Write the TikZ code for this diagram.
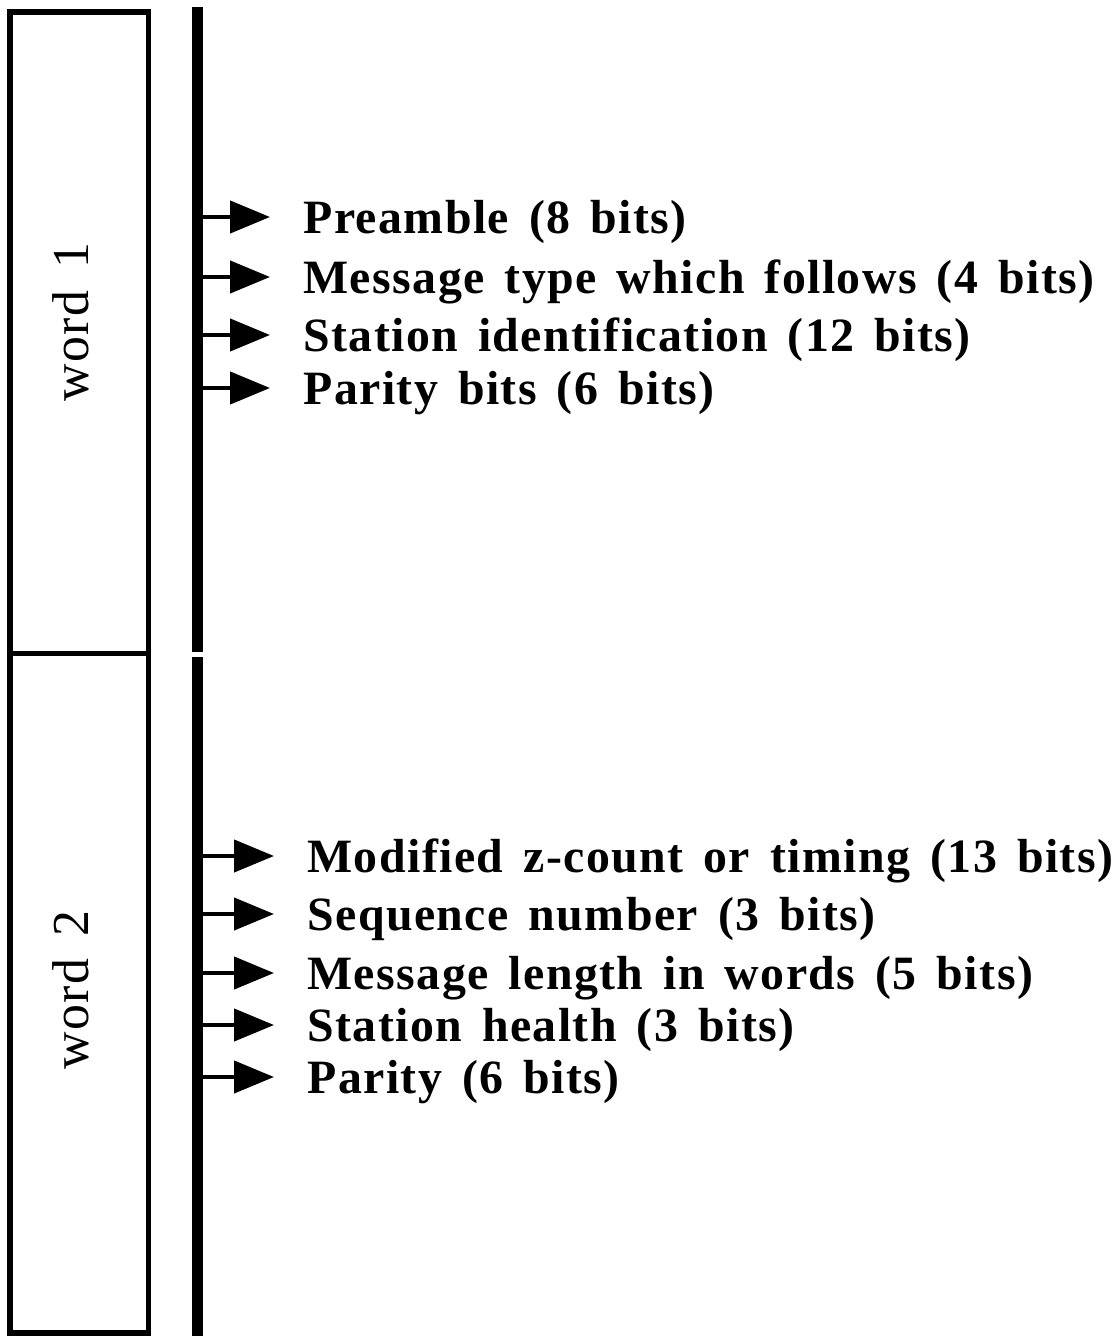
\documentclass[tikz,border=0pt]{standalone}
\usepackage{fontspec}
\setmainfont{Liberation Serif}[WordSpace=1.5,LetterSpace=3]
\usetikzlibrary{arrows.meta}
\tikzset{
  item/.style={anchor=west,inner sep=0pt,text height=18bp,text depth=2bp,font=\fontsize{24}{28}\selectfont\bfseries},
  wordlabel/.style={rotate=90,anchor=base,inner sep=0pt,font=\fontsize{26}{32}\selectfont},
  pin/.style={line width=2.2bp,-{Triangle[length=20bp,width=16bp]},shorten >=16.5bp}
}
\begin{document}
\begin{tikzpicture}[x=0.5bp,y=-0.5bp]
\useasboundingbox (0,0) rectangle (1115,1336);
\draw[line width=2.75bp] (10,12) rectangle (148.5,1333);
\draw[line width=2.75bp] (10,653.5) -- (148.5,653.5);
\fill (192,7) rectangle (203,652);
\fill (192,657) rectangle (203,1336);
\coordinate (bar) at (203,0);
\node[wordlabel] (w1) at (88,322) {word 1};
\node[wordlabel] (w2) at (88,990) {word 2};
\node[item] (a1) at (303,217) {Preamble (8 bits)};
\node[item] (a2) at (303,277) {Message type which follows (4 bits)};
\node[item] (a3) at (303,335) {Station identification (12 bits)};
\node[item] (a4) at (303,388) {Parity bits (6 bits)};
\node[item] (b1) at (307,856) {Modified z-count or timing (13 bits)};
\node[item] (b2) at (307,914) {Sequence number (3 bits)};
\node[item] (b3) at (307,973) {Message length in words (5 bits)};
\node[item] (b4) at (307,1025) {Station health (3 bits)};
\node[item] (b5) at (307,1077) {Parity (6 bits)};
\foreach \n in {a1,a2,a3,a4,b1,b2,b3,b4,b5}
  \draw[pin] (bar |- \n.west) -- (\n.west);
\end{tikzpicture}
\end{document}
